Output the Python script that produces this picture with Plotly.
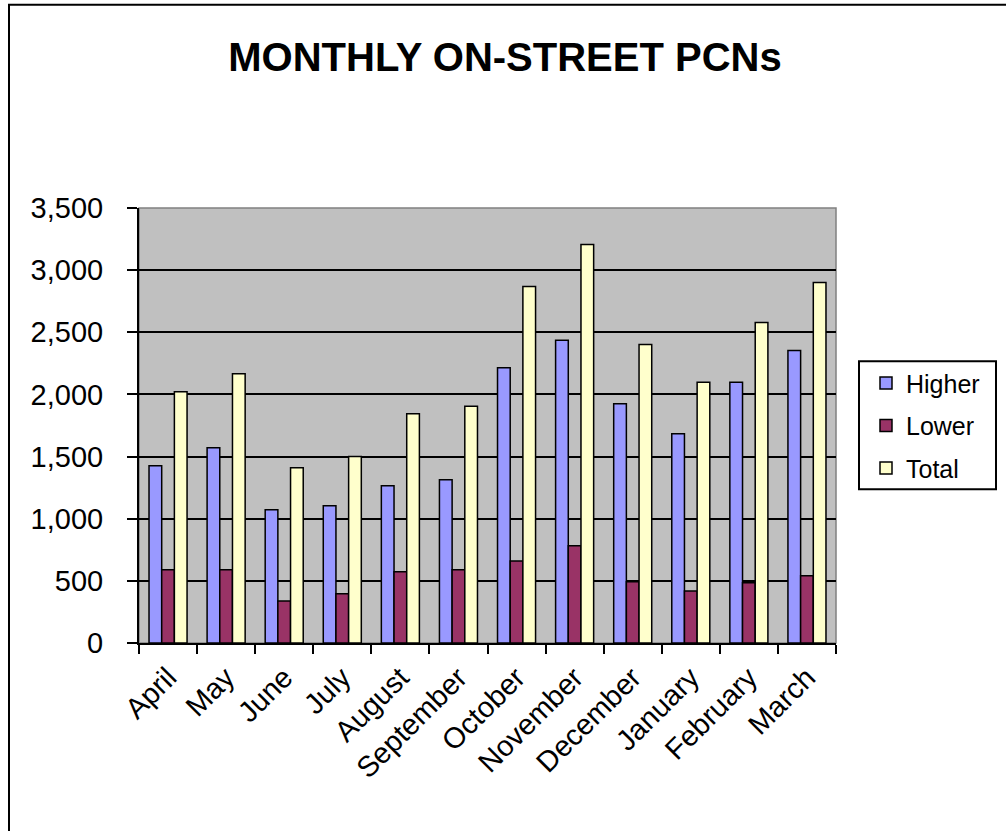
import plotly.graph_objects as go

months = ["April", "May", "June", "July", "August", "September", "October",
          "November", "December", "January", "February", "March"]
higher = [1426, 1571, 1072, 1104, 1265, 1314, 2215, 2435, 1925, 1684, 2097, 2354]
lower = [590, 590, 338, 397, 574, 590, 660, 783, 493, 418, 485, 541]
total = [2022, 2166, 1410, 1501, 1845, 1904, 2869, 3207, 2402, 2097, 2579, 2901]

FONT = "Arial, Liberation Sans, sans-serif"
W, H = 1006, 831
L, R, T, B = 139, 836, 207.5, 643  # plot area in pixels

def px_x(x):
    return (x - L) / (R - L)

def px_y(y):
    return (B - y) / (B - T)

fig = go.Figure()
for name, vals, color, grp in [("Higher", higher, "#9999FF", "a"),
                               ("Lower", lower, "#993366", "b"),
                               ("Total", total, "#FFFFCC", "c")]:
    fig.add_trace(go.Bar(x=months, y=vals, name=name, legendgroup=grp,
                         marker=dict(color=color, line=dict(color="black", width=1.5))))

fig.update_layout(
    width=W, height=H,
    margin=dict(l=L, r=W - R, t=T, b=H - B, pad=0),
    paper_bgcolor="white",
    plot_bgcolor="#C0C0C0",
    barmode="group",
    bargap=0.345,
    bargroupgap=0,
    font=dict(family=FONT, color="black"),
    title=dict(text="<b>MONTHLY ON-STREET PCNs</b>", x=505 / W, xanchor="center",
               y=1 - 57 / H, yanchor="middle", font=dict(size=40, family=FONT, color="black")),
    legend=dict(x=px_x(866), xanchor="left", y=px_y(360), yanchor="top",
                borderwidth=0, bgcolor="rgba(0,0,0,0)",
                font=dict(size=25, family=FONT), tracegroupgap=7),
    showlegend=True,
)
fig.update_xaxes(showline=True, linecolor="black", linewidth=2, ticks="outside",
                 tickson="boundaries", ticklen=9, tickwidth=2, tickcolor="black",
                 tickangle=-45, tickfont=dict(size=29, family=FONT), showgrid=False,
                 ticklabelstandoff=4)
fig.update_yaxes(range=[0, 3500], dtick=500, tickformat=",", showline=True,
                 linecolor="black", linewidth=2, ticks="outside", ticklen=10,
                 tickwidth=2, tickcolor="black", tickfont=dict(size=29, family=FONT),
                 showgrid=True, gridcolor="black", gridwidth=1.5, zeroline=False,
                 ticklabelstandoff=18)

# plot area border (grey, as in the original)
fig.add_shape(type="rect", xref="paper", yref="paper", x0=0, x1=1, y0=0, y1=1,
              line=dict(color="#808080", width=1.5), layer="below")
# legend box
fig.add_shape(type="rect", xref="paper", yref="paper",
              x0=px_x(859), x1=px_x(996), y0=px_y(489), y1=px_y(361),
              line=dict(color="black", width=2), fillcolor="white", layer="below")
# outer chart border
fig.add_shape(type="rect", xref="paper", yref="paper",
              x0=px_x(9), x1=px_x(1012), y0=px_y(4), y1=px_y(840),
              line=dict(color="black", width=2))

fig.write_html("out.html", config={"displayModeBar": False},
               post_script="document.body.style.margin='0';")
